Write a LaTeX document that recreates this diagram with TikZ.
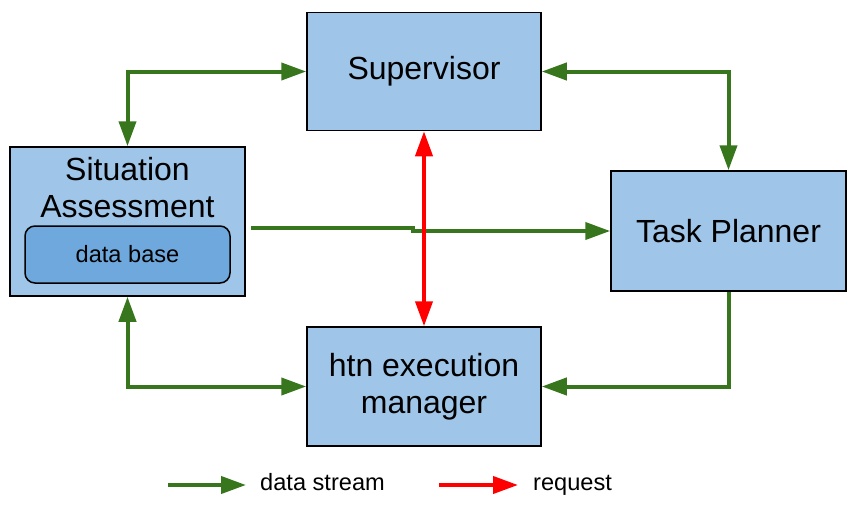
\documentclass[tikz,border=0pt]{standalone}
\usepackage{fontspec}
\setmainfont{Liberation Sans}
\usetikzlibrary{arrows.meta}

\definecolor{boxblue}{HTML}{9FC5E8}
\definecolor{dbblue}{HTML}{6FA8DC}
\definecolor{flowgreen}{HTML}{38761D}
\definecolor{reqred}{HTML}{FF0000}

\begin{document}
\begin{tikzpicture}[
    x=1pt, y=-1pt,
    every node/.style={font=\fontsize{32}{37}\selectfont},
    block/.style={draw=black, line width=1.5pt, fill=boxblue,
        minimum width=234pt, minimum height=118pt, align=center, inner sep=0pt},
    dbbox/.style={draw=black, line width=1.5pt, fill=dbblue, rounded corners=10pt,
        minimum width=205pt, minimum height=57pt, inner sep=0pt,
        font=\fontsize{23.6}{28}\selectfont},
    legendtext/.style={font=\fontsize{23.6}{28}\selectfont, inner sep=0pt, anchor=base west},
    flow/.style={line width=4pt, flowgreen},
    req/.style={line width=4pt, reqred},
    >={Triangle[length=25pt,width=17pt]}
]
\useasboundingbox (0,0) rectangle (856,514);

% --- Blocks ---
\node[block] (sup) at (424,71.5) {Supervisor};
\node[block, minimum width=235pt, minimum height=149pt] (sa) at (127.5,221.5) {};
\node[align=center, inner sep=0pt] (satitle) at (127.5,188) {Situation\\Assessment};
\node[dbbox] (db) at (127.5,254.5) {data base};
\node[block, minimum width=235pt, minimum height=120pt] (tp) at (728.5,231) {Task Planner};
\node[block, minimum height=119pt] (htn) at (424,386.5) {htn execution\\manager};

% --- Data streams ---
\draw[flow, <->] (sa.north) |- (sup.west);
\draw[flow, <->] (sup.east) -| (tp.north);
\draw[flow, <->] (sa.south) |- (htn.west);
\draw[flow, ->] (tp.south) |- (htn.east);
\draw[flow, ->] ([shift={(5,6.5)}]sa.east) -- ++(162,0) -- ++(0,3) -- (tp.west);

% --- Request ---
\draw[req, <->] (sup.south) -- (htn.north);

% --- Legend ---
\coordinate (ds0) at (168,485);
\coordinate (ds1) at (246,485);
\node[legendtext] (dstext) at (260,490) {data stream};
\draw[flow, ->] (ds0) -- (ds1);
\coordinate (rq0) at (439,485);
\coordinate (rq1) at (518,485);
\node[legendtext] (rqtext) at (533,490) {request};
\draw[req, ->] (rq0) -- (rq1);

\end{tikzpicture}
\end{document}
